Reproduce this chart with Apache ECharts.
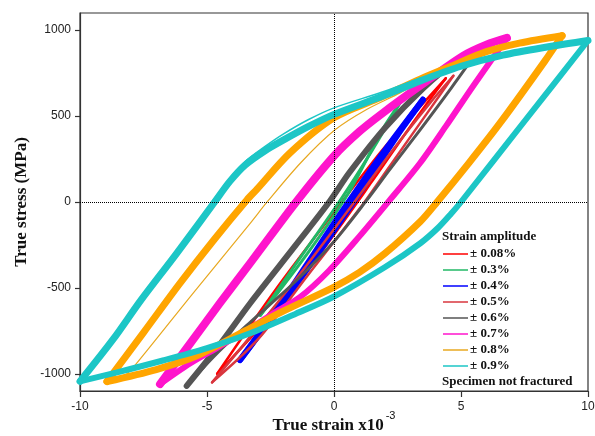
<!DOCTYPE html>
<html>
<head>
<meta charset="utf-8">
<script src="https://cdn.jsdelivr.net/npm/echarts@6/dist/echarts.min.js"></script>
<style>html,body{margin:0;padding:0;background:#fff}#c{width:595px;height:436px}</style>
</head>
<body>
<div id="c"></div>
<script>
// ---- data (strain x10^-3, stress MPa) ----
const strainTicks = [-10, -5, 0, 5, 10];
const stressTicks = [-1000, -500, 0, 500, 1000];
const legendNames = ['± 0.08%', '± 0.3%', '± 0.4%', '± 0.5%', '± 0.6%', '± 0.7%', '± 0.8%', '± 0.9%'];

const red008Up   = [[-4.6,-1000],[-3.3,-720],[-2,-450],[0,-60],[2,320],[4.4,720]];
const red008Down = [[4.4,720],[3.2,480],[1.5,120],[-0.5,-290],[-2.5,-660],[-4.6,-1000]];

const green03Up   = [[-2.9,-660],[-1.5,-360],[0.2,0],[1.5,300],[2.6,577]];
const green03Down = [[2.6,577],[1.9,420],[0.6,60],[-1.0,-290],[-2.9,-660]];

const blue04Up   = [[-3.7,-920],[-2,-570],[0.3,-60],[2,300],[3.5,595]];
const blue04Down = [[3.5,595],[2.5,390],[0.9,30],[-1.2,-420],[-3.7,-920]];

const red05Up   = [[-4.8,-1050],[-3.5,-820],[-1.5,-450],[0.5,-60],[2.3,300],[3.8,580],[4.7,735]];
const red05Down = [[4.7,735],[3.8,545],[2.2,210],[1.0,-40],[-1,-420],[-3,-800],[-4.8,-1050]];

const gray06Up   = [[-5.8,-1070],[-4.5,-830],[-3.3,-589],[-1.5,-250],[-0.16,6],[0.6,170],[2,430],[3.5,660],[4.8,820],[5.75,898]];
const gray06Down = [[5.75,898],[4.6,660],[3.39,420],[2.2,190],[1.3,12],[0,-230],[-1.5,-460],[-3.3,-700],[-4.6,-880],[-5.8,-1070]];

const mag07Up   = [[-6.85,-1060],[-5.67,-825],[-4.5,-590],[-3.3,-356],[-1.46,6],[0,268],[1.0,410],[1.93,519],[3.39,676],[5.08,850],[6.0,915],[6.81,955]];
const mag07Down = [[6.81,955],[5.5,680],[4.4,440],[3.39,227],[2.2,12],[1.0,-200],[-0.2,-400],[-1.34,-554],[-2.3,-640],[-3.3,-735],[-4.5,-840],[-5.67,-940],[-6.85,-1060]];

const orange08Up   = [[-8.94,-1045],[-7.5,-760],[-6.06,-472],[-4.7,-215],[-3.43,12],[-3.03,75],[-1.73,286],[0,490],[1.7,600],[3.39,715],[4.6,790],[6.0,875],[7.3,925],[8.98,968]];
const orange08Down = [[8.98,968],[8.3,820],[6.54,460],[5.3,225],[4.06,0],[3.39,-115],[2,-300],[1,-410],[0,-495],[-2,-635],[-3.5,-750],[-5.4,-895],[-7,-975],[-8.94,-1045]];
const orange08First = [[-8.3,-1020],[-7.9,-962],[-5.6,-540],[-3.3,-124],[-2.6,6],[-1.3,230],[0.04,420],[1.3,540],[2.6,635],[3.6,720]];

const cyan09Up   = [[-10,-1044],[-8.7,-800],[-7.6,-571],[-6.2,-300],[-4.7,0],[-4.1,120],[-3.5,215],[-2.7,300],[-2,360],[-1,440],[0,510],[1.9,615],[3.4,705],[5,790],[6.65,855],[8.5,905],[10,940]];
const cyan09Down = [[10,940],[7.5,470],[5,0],[4.6,-70],[4.1,-150],[3.4,-240],[2,-380],[0,-550],[-1.5,-650],[-3.3,-764],[-5,-850],[-6.7,-921],[-8.5,-990],[-10,-1044]];
const cyan09Thin = [[-4.9,-20],[-4.2,120],[-3.5,235],[-2.7,325],[-2,395],[-1,480],[0,548],[1.9,640],[3.4,722]];

// ---- build series ----
function branch(name, color, data, width) {
  return {
    type: 'line', name: name, data: data, showSymbol: false, symbol: 'none',
    smooth: 0.3, clip: true,
    lineStyle: { color: color, width: width, cap: 'round', join: 'round' },
    itemStyle: { color: color }, emphasis: { disabled: true }, silent: true
  };
}
const colors = ['#ff0000', '#22b866', '#0000ff', '#d9363e', '#555555', '#ff14cc', '#ffa500', '#1cc6c6'];
const series = [
  branch(legendNames[0], colors[0], red008Up, 2.5),
  branch(legendNames[0], colors[0], red008Down, 2.5),
  branch(legendNames[1], colors[1], green03Up, 3),
  branch(legendNames[1], colors[1], green03Down, 3),
  branch(legendNames[2], colors[2], blue04Up, 6),
  branch(legendNames[2], colors[2], blue04Down, 6),
  branch(legendNames[3], colors[3], red05Up, 2.5),
  branch(legendNames[3], colors[3], red05Down, 2.5),
  branch(legendNames[4], colors[4], gray06Up, 6),
  branch(legendNames[4], colors[4], gray06Down, 3),
  branch(legendNames[5], colors[5], mag07Up, 8),
  branch(legendNames[5], colors[5], mag07Down, 6),
  branch(legendNames[6], '#e8a820', orange08First, 1.2),
  branch(legendNames[6], colors[6], orange08Up, 7),
  branch(legendNames[6], colors[6], orange08Down, 7),
  branch(legendNames[7], colors[7], cyan09Thin, 1.5),
  branch(legendNames[7], colors[7], cyan09Up, 7),
  branch(legendNames[7], colors[7], cyan09Down, 6),
  {
    type: 'line', data: [], silent: true, z: 10,
    markLine: {
      silent: true, symbol: 'none', label: { show: false }, animation: false,
      lineStyle: { color: '#000', type: 'dotted', width: 1 },
      data: [{ xAxis: 0 }, { yAxis: 0 }]
    }
  }
];

const serif = 'Liberation Serif';
const chart = echarts.init(document.getElementById('c'), null, { renderer: 'canvas' });
chart.setOption({
  animation: false,
  backgroundColor: '#fff',
  grid: { left: 80, right: 7, top: 13, bottom: 45, outerBoundsMode: 'none', containLabel: false,
          show: true, borderColor: '#333', borderWidth: 1.2, backgroundColor: 'transparent' },
  xAxis: {
    type: 'value', min: -10, max: 10, interval: 5,
    axisLine: { onZero: false, lineStyle: { color: '#333', width: 1.2 } },
    axisTick: { show: true, length: 6, lineStyle: { color: '#333', width: 1.2 } },
    axisLabel: { color: '#222', fontFamily: 'Liberation Sans', fontSize: 12, margin: 10, formatter: v => String(v) },
    splitLine: { show: false },
    name: '{a|True strain x10}{b|-3}', nameLocation: 'middle', nameGap: 19, nameMoveOverlap: false,
    nameTextStyle: {
      rich: {
        a: { fontFamily: serif, fontWeight: 'bold', fontSize: 17, color: '#111', lineHeight: 24, verticalAlign: 'bottom' },
        b: { fontFamily: 'Liberation Sans', fontSize: 11, color: '#111', verticalAlign: 'top', padding: [0,0,0,2] }
      }
    }
  },
  yAxis: {
    type: 'value', min: -1100, max: 1100,
    axisLine: { onZero: false, lineStyle: { color: '#333', width: 1.2 } },
    axisTick: { show: true, length: 5, customValues: stressTicks, lineStyle: { color: '#333', width: 1.2 } },
    axisLabel: { color: '#222', fontFamily: 'Liberation Sans', fontSize: 12, margin: 9, customValues: stressTicks, formatter: v => String(v) },
    splitLine: { show: false },
    name: 'True stress (MPa)', nameLocation: 'middle', nameGap: 50, nameRotate: 90, nameMoveOverlap: false,
    nameTextStyle: { fontFamily: serif, fontWeight: 'bold', fontSize: 17, color: '#111' }
  },
  legend: {
    data: legendNames, orient: 'vertical', left: 443, top: 246,
    icon: 'rect', itemWidth: 25, itemHeight: 1.5, itemGap: 0, padding: 0,
    selectedMode: false,
    textStyle: { fontFamily: serif, fontWeight: 'bold', fontSize: 13, color: '#111', lineHeight: 16, padding: [0,0,0,-3] }
  },
  graphic: [
    { type: 'text', left: 442, top: 230, silent: true,
      style: { text: 'Strain amplitude', fontFamily: serif, fontWeight: 'bold', fontSize: 13, fill: '#111' } },
    { type: 'text', left: 442, top: 375, silent: true,
      style: { text: 'Specimen not fractured', fontFamily: serif, fontWeight: 'bold', fontSize: 13, fill: '#111' } }
  ],
  series: series
});
</script>
</body>
</html>
